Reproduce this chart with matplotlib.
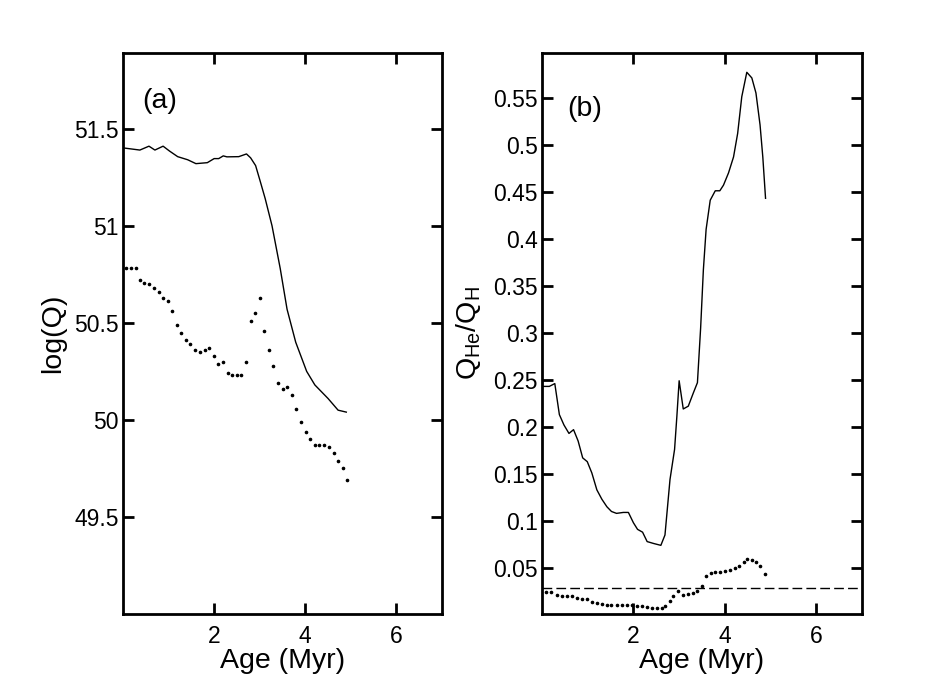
import matplotlib
matplotlib.use("Agg")
import matplotlib.pyplot as plt

plt.rcParams['font.family'] = ['Liberation Sans', 'DejaVu Sans']

# ---- Panel (a): log(Q) ----
a_solid_x = [0.04, 0.37, 0.57, 0.70, 0.88, 1.02, 1.20, 1.42, 1.60, 1.85, 2.00, 2.10, 2.20, 2.28,
             2.54, 2.71, 2.80, 2.91, 3.01, 3.12, 3.27, 3.45, 3.60, 3.79, 4.03, 4.21, 4.50, 4.72, 4.90]
a_solid_y = [51.40, 51.39, 51.41, 51.39, 51.41, 51.385, 51.356, 51.34, 51.32, 51.325, 51.346, 51.346,
             51.36, 51.355, 51.356, 51.37, 51.35, 51.31, 51.23, 51.14, 51.00, 50.78, 50.57, 50.40,
             50.25, 50.18, 50.11, 50.05, 50.04]

a_dot_x = [0.07, 0.17, 0.28, 0.37, 0.46, 0.57, 0.67, 0.78, 0.88, 0.99, 1.08, 1.18, 1.28, 1.38, 1.48,
           1.58, 1.69, 1.79, 1.89, 1.99, 2.09, 2.20, 2.30, 2.40, 2.50, 2.60, 2.70, 2.80, 2.90, 3.00,
           3.09, 3.20, 3.30, 3.40, 3.50, 3.60, 3.70, 3.80, 3.91, 4.01, 4.11, 4.21, 4.31, 4.41, 4.51,
           4.62, 4.72, 4.82, 4.92]
a_dot_y = [50.78, 50.78, 50.78, 50.72, 50.705, 50.70, 50.68, 50.66, 50.63, 50.61, 50.56, 50.49, 50.45,
           50.41, 50.39, 50.36, 50.35, 50.36, 50.37, 50.33, 50.29, 50.30, 50.24, 50.23, 50.23, 50.23,
           50.30, 50.51, 50.55, 50.63, 50.46, 50.36, 50.28, 50.19, 50.16, 50.17, 50.13, 50.055, 49.99,
           49.94, 49.90, 49.87, 49.87, 49.87, 49.86, 49.83, 49.79, 49.75, 49.69]

# ---- Panel (b): Q_He/Q_H ----
b_solid_x = [0.03, 0.16, 0.28, 0.38, 0.48, 0.59, 0.69, 0.79, 0.89, 0.99, 1.09, 1.20, 1.31, 1.42, 1.52,
             1.63, 1.78, 1.89, 2.00, 2.09, 2.20, 2.30, 2.44, 2.60, 2.69, 2.80, 2.90, 2.95, 3.00, 3.09,
             3.20, 3.31, 3.40, 3.47, 3.53, 3.59, 3.68, 3.79, 3.89, 3.97, 4.08, 4.19, 4.28, 4.37, 4.48,
             4.59, 4.68, 4.77, 4.83, 4.89]
b_solid_y = [0.243, 0.243, 0.246, 0.213, 0.202, 0.193, 0.197, 0.185, 0.167, 0.163, 0.151, 0.133, 0.123,
             0.115, 0.110, 0.108, 0.109, 0.109, 0.098, 0.091, 0.088, 0.078, 0.076, 0.074, 0.085, 0.144,
             0.176, 0.211, 0.249, 0.219, 0.222, 0.236, 0.247, 0.305, 0.367, 0.410, 0.441, 0.451, 0.451,
             0.457, 0.470, 0.487, 0.512, 0.551, 0.577, 0.571, 0.555, 0.521, 0.487, 0.443]

b_dot_x = [0.09, 0.20, 0.32, 0.43, 0.54, 0.65, 0.76, 0.87, 0.98, 1.09, 1.20, 1.31, 1.42, 1.52, 1.63,
           1.74, 1.85, 1.96, 2.07, 2.18, 2.29, 2.40, 2.51, 2.62, 2.69, 2.79, 2.87, 2.98, 3.09, 3.20,
           3.31, 3.40, 3.49, 3.59, 3.69, 3.79, 3.90, 4.00, 4.11, 4.22, 4.32, 4.41, 4.49, 4.59, 4.68,
           4.77, 4.88]
b_dot_y = [0.0245, 0.0245, 0.0216, 0.020, 0.020, 0.020, 0.0175, 0.017, 0.0165, 0.014, 0.013, 0.012,
           0.011, 0.0105, 0.0105, 0.0105, 0.011, 0.011, 0.0095, 0.0092, 0.0085, 0.0077, 0.0075, 0.0075,
           0.009, 0.0145, 0.020, 0.025, 0.0216, 0.0224, 0.0234, 0.025, 0.031, 0.041, 0.0447, 0.0453,
           0.0457, 0.0464, 0.048, 0.050, 0.052, 0.056, 0.059, 0.058, 0.056, 0.052, 0.044]
b_dashed_y = 0.0287

a_yticks = [49.5, 50, 50.5, 51, 51.5]
a_yticklabels = ['49.5', '50', '50.5', '51', '51.5']
b_yticks = [0.05, 0.1, 0.15, 0.2, 0.25, 0.3, 0.35, 0.4, 0.45, 0.5, 0.55]
b_yticklabels = ['0.05', '0.1', '0.15', '0.2', '0.25', '0.3', '0.35', '0.4', '0.45', '0.5', '0.55']
xticks = [2, 4, 6]
xticklabels = ['2', '4', '6']

fig = plt.figure(figsize=(9.5, 6.92), dpi=100)
ax1 = fig.add_axes([123/950, 1 - 614/692, (442-123)/950, (614-53)/692])
ax2 = fig.add_axes([542/950, 1 - 614/692, (862-542)/950, (614-53)/692])

def style(ax):
    for s in ax.spines.values():
        s.set_linewidth(2.0)
    ax.tick_params(direction='in', length=8, width=2.0, top=True, right=True,
                   labelsize=16.5)
    ax.tick_params(axis='x', pad=8)
    ax.tick_params(axis='y', pad=3)
    ax.set_xticks(xticks)
    ax.set_xticklabels(xticklabels)
    ax.set_xlim(0, 7)
    ax.set_xlabel('Age (Myr)', fontsize=20.5, labelpad=0)

ax1.plot(a_solid_x, a_solid_y, color='black', lw=1.0)
ax1.plot(a_dot_x, a_dot_y, linestyle='none', marker='o', markersize=1.6, color='black')
style(ax1)
ax1.set_ylim(49.0, 51.89)
ax1.set_yticks(a_yticks)
ax1.set_yticklabels(a_yticklabels)
ax1.set_ylabel('log(Q)', fontsize=20.5, labelpad=6)
ax1.text(0.06, 0.915, '(a)', transform=ax1.transAxes, fontsize=20.5, va='center', ha='left')

ax2.plot(b_solid_x, b_solid_y, color='black', lw=1.0)
ax2.plot(b_dot_x, b_dot_y, linestyle='none', marker='o', markersize=1.6, color='black')
ax2.axhline(b_dashed_y, color='black', lw=1.0, linestyle=(0, (7, 3)))
style(ax2)
ax2.set_ylim(0.001, 0.5975)
ax2.set_yticks(b_yticks)
ax2.set_yticklabels(b_yticklabels)
ax2.set_ylabel(r'$\mathregular{Q_{He}/Q_H}$', fontsize=20.5, labelpad=7)
ax2.text(0.08, 0.9, '(b)', transform=ax2.transAxes, fontsize=20.5, va='center', ha='left')

fig.savefig('out.png', dpi=100)
